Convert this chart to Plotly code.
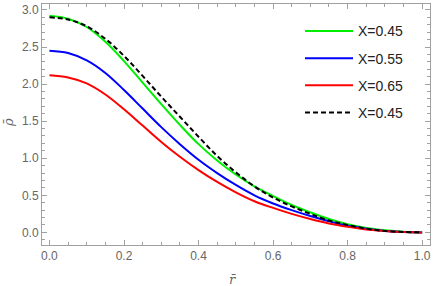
import plotly.graph_objects as go

r = [0.0, 0.05, 0.1, 0.15, 0.2, 0.25, 0.3, 0.35, 0.4, 0.45, 0.5,
     0.55, 0.6, 0.65, 0.7, 0.75, 0.8, 0.85, 0.9, 0.95, 1.0]

green_045 = [2.92, 2.88, 2.77, 2.57, 2.31, 2.02, 1.73, 1.45, 1.19, 0.97, 0.78,
             0.62, 0.49, 0.37, 0.27, 0.18, 0.11, 0.06, 0.03, 0.01, 0.0]
blue_055 = [2.45, 2.42, 2.32, 2.15, 1.92, 1.67, 1.42, 1.19, 0.98, 0.80, 0.64,
            0.50, 0.39, 0.30, 0.22, 0.15, 0.09, 0.05, 0.02, 0.005, 0.0]
red_065 = [2.12, 2.09, 2.01, 1.86, 1.66, 1.44, 1.22, 1.02, 0.84, 0.68, 0.54,
           0.42, 0.33, 0.25, 0.18, 0.12, 0.075, 0.04, 0.02, 0.005, 0.0]
black_045 = [2.90, 2.87, 2.78, 2.61, 2.38, 2.11, 1.83, 1.56, 1.29, 1.03, 0.81,
             0.62, 0.47, 0.35, 0.25, 0.16, 0.10, 0.05, 0.02, 0.005, 0.0]

x_ticks = [0, 0.2, 0.4, 0.6, 0.8, 1.0]
x_ticktext = ["0.0", "0.2", "0.4", "0.6", "0.8", "1.0"]
y_ticks = [0, 0.5, 1.0, 1.5, 2.0, 2.5, 3.0]
y_ticktext = ["0.0", "0.5", "1.0", "1.5", "2.0", "2.5", "3.0"]

series = [
    ("X=0.45", green_045, "#00ee00", "solid"),
    ("X=0.55", blue_055, "#0000ff", "solid"),
    ("X=0.65", red_065, "#ff0000", "solid"),
    ("X=0.45", black_045, "#000000", "5px,3px"),
]

fig = go.Figure()
for i, (name, ys, color, dash) in enumerate(series):
    fig.add_trace(go.Scatter(
        x=r, y=ys, mode="lines", name=name, legendgroup=f"g{i}",
        line=dict(color=color, width=2, dash=dash, shape="spline", smoothing=1.0),
    ))

axis_common = dict(
    showgrid=False, zeroline=False, showline=True, linecolor="#a0a0a0",
    linewidth=1, mirror="allticks", ticks="inside", ticklen=5,
    tickcolor="#a0a0a0", ticklabeloverflow="allow",
    tickfont=dict(family="Liberation Sans, Arial", size=12, color="#666666"),
)

fig.update_xaxes(range=[-0.02, 1.021], tickvals=x_ticks, ticktext=x_ticktext,
                 minor=dict(ticks="inside", dtick=0.05, ticklen=3, tickcolor="#a0a0a0"),
                 **axis_common)
fig.update_yaxes(range=[-0.17, 3.08], tickvals=y_ticks, ticktext=y_ticktext,
                 minor=dict(ticks="inside", dtick=0.1, ticklen=3, tickcolor="#a0a0a0"),
                 **axis_common)

fig.add_annotation(text="<i>ρ̄</i>", xref="paper", yref="paper", x=-0.0876, y=0.506,
                   xanchor="center", yanchor="middle",
                   showarrow=False, textangle=-90,
                   font=dict(family="DejaVu Serif", size=13, color="#666666"))
fig.add_annotation(text="<i>r̄</i>", xref="paper", yref="paper", x=0.492, y=-0.145,
                   xanchor="center", yanchor="middle",
                   showarrow=False,
                   font=dict(family="DejaVu Serif", size=13, color="#666666"))

fig.update_layout(
    width=436, height=286,
    margin=dict(l=42, r=6, t=4, b=41),
    paper_bgcolor="white", plot_bgcolor="white",
    showlegend=True,
    legend=dict(x=0.665, y=0.953, xanchor="left", yanchor="top",
                bgcolor="rgba(0,0,0,0)", tracegroupgap=6, itemwidth=48,
                font=dict(family="Liberation Sans, Arial", size=14, color="#222222")),
)

fig.write_html("out.html", config={"displayModeBar": False},
               post_script="document.body.style.margin='0';document.body.style.overflow='hidden';")
